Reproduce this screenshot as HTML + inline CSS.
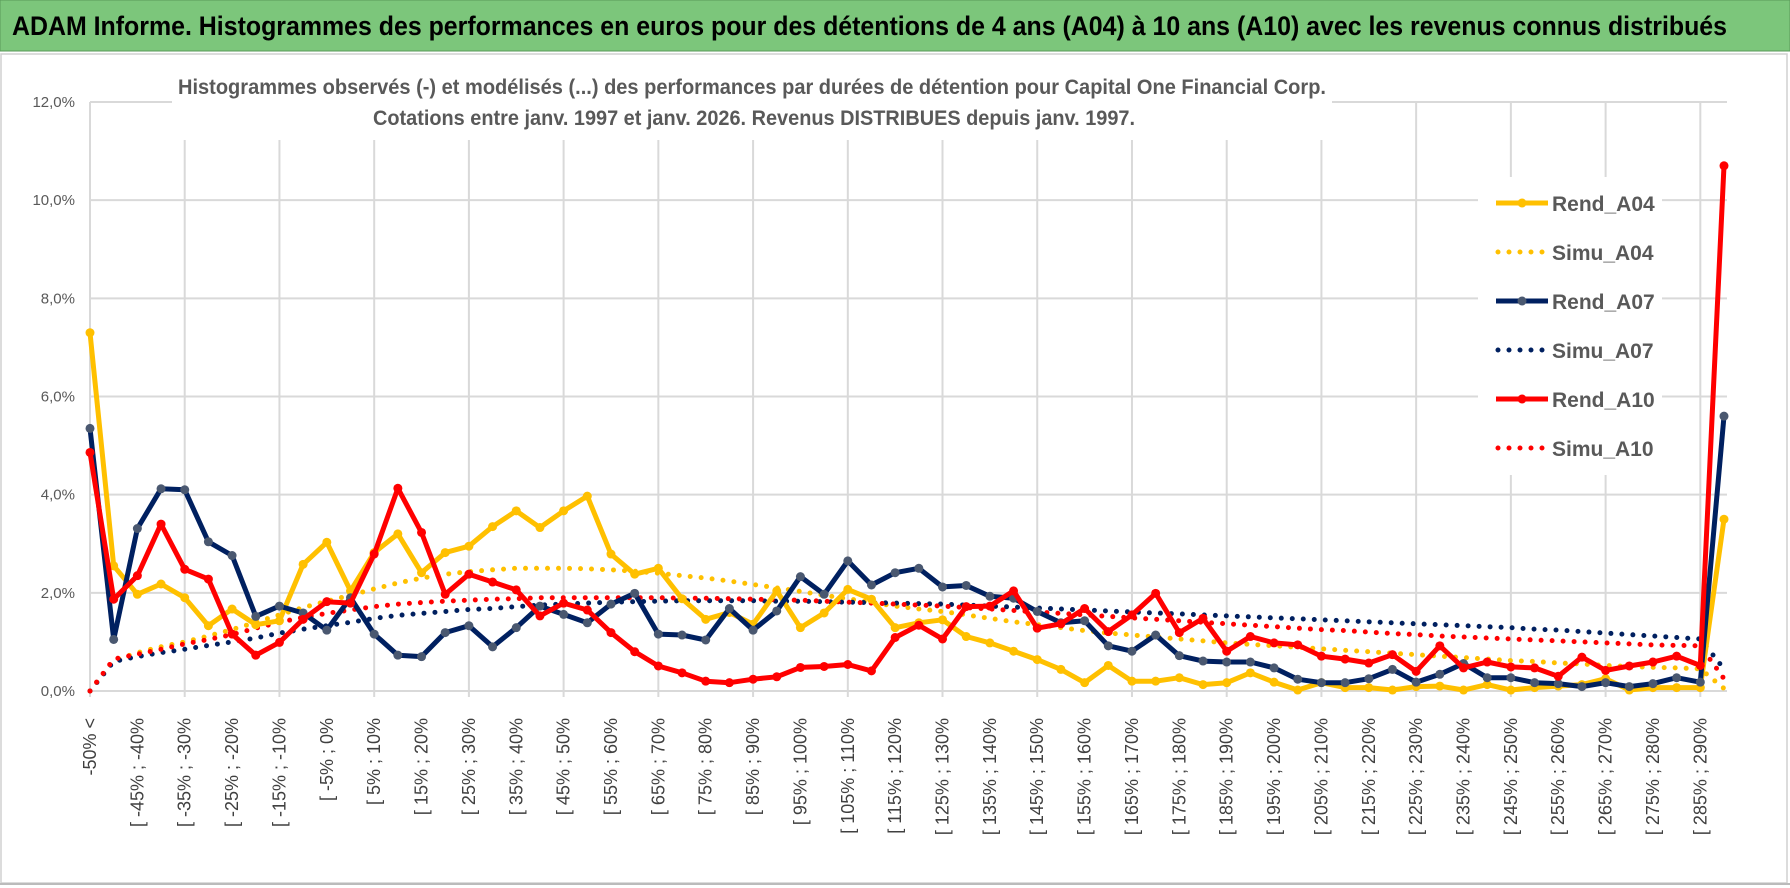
<!DOCTYPE html>
<html><head><meta charset="utf-8"><style>
html,body{margin:0;padding:0;background:#fff;}
svg{display:block;font-family:"Liberation Sans Narrow","Liberation Sans",sans-serif;}
</style></head><body>
<svg id="chart" width="1790" height="888" viewBox="0 0 1790 888" xmlns="http://www.w3.org/2000/svg">
<rect x="0" y="0" width="1790" height="888" fill="#fff"/>
<rect x="0" y="0" width="1790" height="51" fill="#7cc67b" stroke="#5a9a5a" stroke-width="1"/>
<text x="12" y="35" font-size="27" font-weight="bold" fill="#000" textLength="1715" lengthAdjust="spacingAndGlyphs">ADAM Informe. Histogrammes des performances en euros pour des détentions de 4 ans (A04) à 10 ans (A10) avec les revenus connus distribués</text>
<rect x="1" y="54" width="1786" height="829" fill="none" stroke="#d0d0d0" stroke-width="1.5"/>
<line x1="0" y1="884" x2="1790" y2="884" stroke="#bbb" stroke-width="2"/>
<g id="grid"></g>
<g id="ylabels"></g>
<g id="xlabels"></g>
<rect x="172" y="66" width="1160" height="74" fill="#fff"/>
<text x="752" y="94" text-anchor="middle" font-size="21" font-weight="bold" fill="#595959" textLength="1148" lengthAdjust="spacingAndGlyphs">Histogrammes observés (-) et modélisés (...) des performances par durées de détention pour Capital One Financial Corp.</text>
<text x="754" y="125" text-anchor="middle" font-size="21" font-weight="bold" fill="#595959" textLength="762" lengthAdjust="spacingAndGlyphs">Cotations entre janv. 1997 et janv. 2026. Revenus DISTRIBUES depuis janv. 1997.</text>
<g id="series"></g>
<rect x="1478" y="177" width="184" height="298" fill="#fff"/>
<g id="legend"></g>
</svg>
<script>
const categories=["-50% <"];
for(let a=-50;a<290;a+=5){categories.push("[ "+a+"% ; "+(a+5)+"%");}
categories.push("> 290%");
const yTicks=[0,2,4,6,8,10,12];
const rendA04=[7.3,2.55,1.97,2.18,1.9,1.33,1.67,1.35,1.43,2.58,3.03,2.04,2.82,3.2,2.41,2.82,2.95,3.35,3.67,3.33,3.67,3.97,2.79,2.38,2.5,1.88,1.46,1.6,1.36,2.04,1.29,1.59,2.07,1.87,1.29,1.39,1.45,1.11,0.98,0.81,0.64,0.44,0.17,0.52,0.2,0.2,0.27,0.13,0.17,0.37,0.18,0.02,0.17,0.07,0.07,0.02,0.09,0.1,0.02,0.13,0.02,0.07,0.1,0.13,0.25,0.02,0.07,0.07,0.07,3.5];
const simuA04=[0,0.62,0.78,0.9,1.0,1.12,1.25,1.4,1.55,1.7,1.83,1.95,2.08,2.2,2.3,2.38,2.43,2.47,2.5,2.5,2.5,2.49,2.47,2.44,2.4,2.35,2.3,2.24,2.17,2.1,2.03,1.95,1.88,1.8,1.73,1.67,1.62,1.55,1.48,1.41,1.35,1.29,1.23,1.18,1.14,1.1,1.06,1.02,0.98,0.95,0.92,0.89,0.86,0.83,0.8,0.77,0.74,0.71,0.68,0.65,0.62,0.6,0.57,0.55,0.52,0.5,0.48,0.47,0.45,0.05];
const rendA07=[5.35,1.05,3.31,4.12,4.1,3.04,2.76,1.52,1.73,1.59,1.24,1.9,1.16,0.73,0.7,1.19,1.33,0.9,1.29,1.73,1.56,1.39,1.77,1.99,1.16,1.14,1.04,1.68,1.24,1.63,2.33,1.97,2.65,2.16,2.41,2.5,2.12,2.15,1.93,1.89,1.62,1.39,1.43,0.92,0.81,1.14,0.72,0.61,0.59,0.59,0.47,0.24,0.17,0.17,0.25,0.44,0.18,0.34,0.56,0.27,0.27,0.17,0.15,0.09,0.17,0.09,0.15,0.27,0.18,5.6];
const simuA07=[0,0.6,0.7,0.78,0.85,0.93,1.0,1.08,1.18,1.26,1.33,1.4,1.48,1.54,1.58,1.62,1.66,1.68,1.72,1.75,1.77,1.79,1.81,1.82,1.83,1.84,1.84,1.84,1.84,1.83,1.83,1.82,1.81,1.8,1.79,1.78,1.77,1.75,1.73,1.71,1.69,1.67,1.65,1.63,1.61,1.59,1.57,1.55,1.53,1.51,1.49,1.47,1.45,1.43,1.41,1.39,1.37,1.35,1.33,1.31,1.29,1.26,1.24,1.21,1.18,1.15,1.12,1.09,1.06,0.45];
const rendA10=[4.86,1.87,2.35,3.4,2.48,2.28,1.16,0.73,0.99,1.46,1.82,1.79,2.79,4.13,3.23,1.97,2.38,2.22,2.06,1.53,1.79,1.65,1.19,0.8,0.51,0.37,0.2,0.17,0.24,0.29,0.48,0.5,0.54,0.41,1.09,1.34,1.06,1.72,1.73,2.04,1.28,1.37,1.68,1.21,1.55,1.99,1.19,1.48,0.81,1.11,0.98,0.94,0.71,0.65,0.57,0.74,0.4,0.92,0.47,0.59,0.49,0.47,0.3,0.69,0.42,0.51,0.59,0.71,0.52,10.7];
const simuA10=[0,0.65,0.75,0.85,0.96,1.05,1.15,1.28,1.4,1.5,1.58,1.65,1.72,1.77,1.8,1.83,1.85,1.87,1.88,1.9,1.9,1.9,1.9,1.9,1.9,1.89,1.89,1.88,1.87,1.86,1.85,1.83,1.81,1.79,1.77,1.75,1.73,1.7,1.67,1.64,1.61,1.58,1.55,1.52,1.49,1.46,1.43,1.4,1.37,1.34,1.31,1.28,1.25,1.23,1.2,1.17,1.15,1.12,1.1,1.08,1.06,1.04,1.02,1.0,0.98,0.96,0.94,0.93,0.92,0.25];
const seriesNames=["Rend_A04","Simu_A04","Rend_A07","Simu_A07","Rend_A10","Simu_A10"];

const NS="http://www.w3.org/2000/svg";
const X0=90,X1=1724,Y0=691,YTOP=102,YMAX=12;
function xPos(i){return X0+i*(X1-X0)/(categories.length-1);}
function yPos(v){return Y0-(v/YMAX)*(Y0-YTOP);}
function mk(tag,attrs,parent){const e=document.createElementNS(NS,tag);for(const k in attrs)e.setAttribute(k,attrs[k]);parent.appendChild(e);return e;}

const grid=document.getElementById('grid');
yTicks.forEach(t=>{
  const l=mk('line',{x1:X0,x2:1727,y1:yPos(t),y2:yPos(t),stroke:'#d9d9d9','stroke-width':2},grid);
  
  
});
for(let i=0;i<categories.length;i+=4){
  const l=mk('line',{x1:xPos(i),x2:xPos(i),y1:YTOP,y2:Y0+6,stroke:'#d9d9d9','stroke-width':2},grid);
  
  
}
const yl=document.getElementById('ylabels');
yTicks.forEach(t=>{
  const tx=mk('text',{x:75,y:yPos(t)+5,'text-anchor':'end','font-size':15,fill:'#595959'},yl);
  tx.textContent=t.toFixed(1).replace('.',',')+'%';
  
  
});
const xl=document.getElementById('xlabels');
for(let i=0;i<categories.length;i+=2){
  const x=xPos(i)+6,y=718;
  const tx=mk('text',{x:x,y:y,'text-anchor':'end','font-size':18,fill:'#404040',transform:'rotate(-90 '+x+' '+y+')'},xl);
  tx.textContent=categories[i];
  
  
}
const ser=document.getElementById('series');
function drawDotted(vals,color,name){
  const d=vals.map((v,i)=>(i?'L':'M')+xPos(i).toFixed(1)+' '+yPos(v).toFixed(1)).join(' ');
  const p=mk('path',{d:d,fill:'none',stroke:color,'stroke-width':5,'stroke-linecap':'round','stroke-dasharray':'0 11'},ser);
  
  
}
function drawLine(vals,color,mcolor,name){
  const g=mk('g',{},ser);
  
  
  const d=vals.map((v,i)=>(i?'L':'M')+xPos(i).toFixed(1)+' '+yPos(v).toFixed(1)).join(' ');
  mk('path',{d:d,fill:'none',stroke:color,'stroke-width':5,'stroke-linejoin':'round'},g);
  vals.forEach((v,i)=>{
    const c=mk('circle',{cx:xPos(i),cy:yPos(v),r:4.5,fill:mcolor},g);
    
    
  });
}
drawDotted(simuA04,'#ffc000','simu-a04-line');
drawDotted(simuA07,'#002060','simu-a07-line');
drawDotted(simuA10,'#ff0000','simu-a10-line');
drawLine(rendA04,'#ffc000','#ffc000','rend-a04-line');
drawLine(rendA07,'#002060','#4a5870','rend-a07-line');
drawLine(rendA10,'#ff0000','#ff0000','rend-a10-line');

const leg=document.getElementById('legend');
const legColors=['#ffc000','#ffc000','#002060','#002060','#ff0000','#ff0000'];
seriesNames.forEach((n,k)=>{
  const y=203+k*49;
  const g=mk('g',{},leg);
  
  
  if(k%2===0){
    mk('line',{x1:1496,x2:1548,y1:y,y2:y,stroke:legColors[k],'stroke-width':5},g);
    mk('circle',{cx:1522,cy:y,r:4.5,fill:k===2?'#4a5870':legColors[k]},g);
  } else {
    mk('line',{x1:1498,x2:1546,y1:y,y2:y,stroke:legColors[k],'stroke-width':5,'stroke-linecap':'round','stroke-dasharray':'0 11'},g);
  }
  const t=mk('text',{x:1552,y:y+8,'font-size':21,'font-weight':'bold',fill:'#595959'},g);
  t.textContent=n;
});
</script>
</body></html>
